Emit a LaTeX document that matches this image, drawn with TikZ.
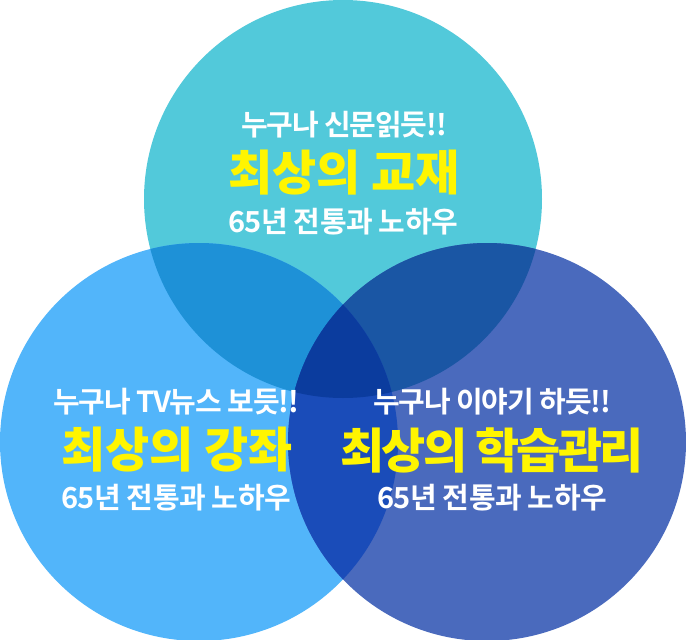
\documentclass[tikz,border=0pt]{standalone}
\usepackage{fontspec}
\newfontfamily\kr{Noto Sans CJK KR Black}
\newfontfamily\krA{Noto Sans CJK KR Bold}[LetterSpace=-4]
\newfontfamily\krB{Noto Sans CJK KR Bold}[LetterSpace=-2]
\newfontfamily\krC{Noto Sans CJK KR Black}[LetterSpace=-6]
\definecolor{cTop}{HTML}{52C9DA}
\definecolor{cLeft}{HTML}{52B5FA}
\definecolor{cRight}{HTML}{4A6ABD}
\definecolor{cTL}{HTML}{1E91D7}
\definecolor{cTR}{HTML}{1A56A4}
\definecolor{cLR}{HTML}{1A4CB9}
\definecolor{cAll}{HTML}{0B3C9E}
\definecolor{yel}{HTML}{FFF500}
\tikzset{
  small/.style={text=white,font=\krA\fontsize{29}{29}\selectfont,inner sep=0pt},
  third/.style={text=white,font=\krB\fontsize{29}{29}\selectfont,inner sep=0pt},
  big/.style={text=yel,font=\kr\fontsize{48}{48}\selectfont,inner sep=0pt},
  bigt/.style={text=yel,font=\krC\fontsize{48}{48}\selectfont,inner sep=0pt},
}
\begin{document}
\begin{tikzpicture}[x=1pt,y=-1pt]
\useasboundingbox (0,0) rectangle (686,640);
\def\R{199}
\coordinate (T) at (343,199);
\coordinate (L) at (199,442);
\coordinate (Rc) at (487,442);
\fill[cTop] (T) circle (\R);
\fill[cLeft] (L) circle (\R);
\fill[cRight] (Rc) circle (\R);
\begin{scope}\clip (T) circle (\R); \fill[cTL] (L) circle (\R); \fill[cTR] (Rc) circle (\R);\end{scope}
\begin{scope}\clip (L) circle (\R); \fill[cLR] (Rc) circle (\R);
  \clip (T) circle (\R); \fill[cAll] (Rc) circle (\R);\end{scope}
\node[small] (t1) at (344,125) {누구나 신문읽듯!!};
\node[big] (t2) at (344,173) {최상의 교재};
\node[third] (t3) at (343,222) {65년 전통과 노하우};
\node[small] (l1) at (176,402) {누구나 TV뉴스 보듯!!};
\node[big] (l2) at (177,450) {최상의 강좌};
\node[third] (l3) at (176,498) {65년 전통과 노하우};
\node[small] (r1) at (492,402) {누구나 이야기 하듯!!};
\node[bigt] (r2) at (492,450) {최상의 학습관리};
\node[third] (r3) at (492,498) {65년 전통과 노하우};
\end{tikzpicture}
\end{document}
